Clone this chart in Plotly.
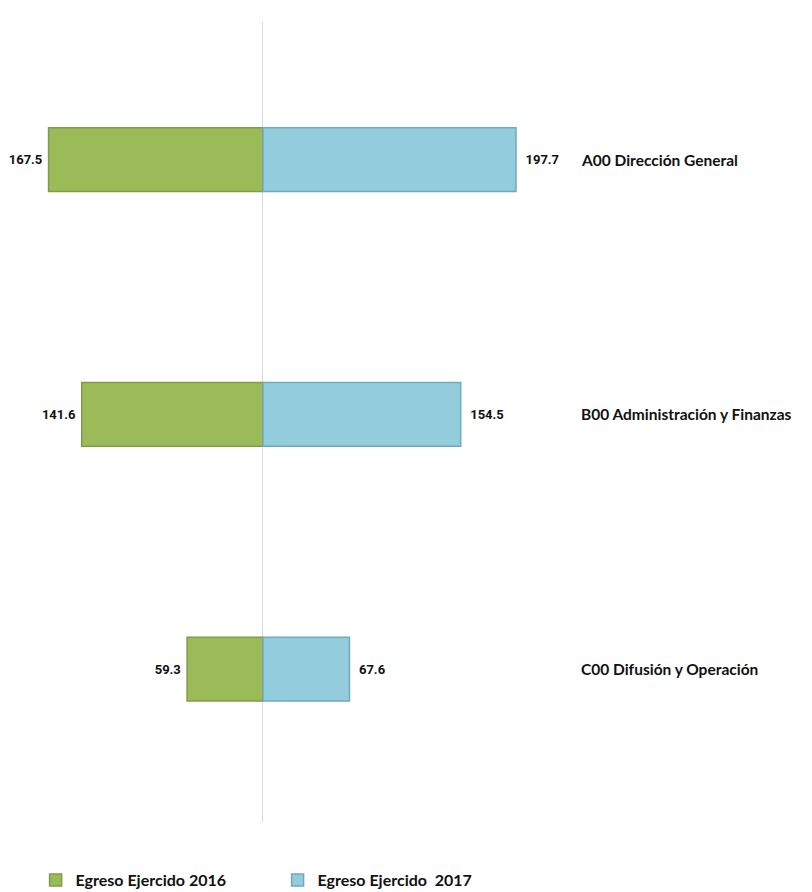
import plotly.graph_objects as go

# datos: egreso ejercido por unidad (millones)
unidades = ['A00 Dirección General', 'B00 Administración y Finanzas', 'C00 Difusión y Operación']
egreso_2016 = [167.5, 141.6, 59.3]
egreso_2017 = [197.7, 154.5, 67.6]

fuente_num = dict(family='Roboto, Liberation Sans', size=13, color='#111111')

fig = go.Figure()

# 2016 hacia la izquierda (valores negativos), etiqueta con el valor real
fig.add_trace(go.Bar(
    y=unidades,
    x=[-v for v in egreso_2016],
    orientation='h',
    name='Egreso Ejercido 2016',
    marker=dict(color='#9bbb59', line=dict(color='#809c48', width=1.5)),
    text=[f'<b>{v:.1f}</b>&nbsp;' for v in egreso_2016],
    textposition='outside',
    textfont=fuente_num,
    cliponaxis=False,
    hoverinfo='skip',
))

# 2017 hacia la derecha
fig.add_trace(go.Bar(
    y=unidades,
    x=egreso_2017,
    orientation='h',
    name='Egreso Ejercido  2017',
    marker=dict(color='#93cddd', line=dict(color='#71aab9', width=1.5)),
    text=[f'&nbsp;&nbsp;<b>{v:.1f}</b>' for v in egreso_2017],
    textposition='outside',
    textfont=fuente_num,
    cliponaxis=False,
    hoverinfo='skip',
))

# nombres de las unidades a la derecha
for u in unidades:
    fig.add_annotation(
        x=0.703, xref='paper', xanchor='left',
        y=u, yref='y', yanchor='middle',
        text=f'<b>{u}</b>', showarrow=False,
        font=dict(family='Lato, Open Sans', size=15.5, color='#111111'),
    )

fig.update_layout(
    width=812, height=892,
    barmode='relative',
    bargap=0.75,
    plot_bgcolor='white',
    paper_bgcolor='white',
    margin=dict(l=0, r=0, t=14, b=78),
    xaxis=dict(range=[-199.2, 435.2], showgrid=False, showticklabels=False,
               zeroline=True, zerolinecolor='#d9d9d9', zerolinewidth=1, fixedrange=True),
    yaxis=dict(range=[2.6, -0.54], showticklabels=False, showgrid=False, zeroline=False),
    legend=dict(orientation='h', x=0.034, xanchor='left', y=-0.0725, yanchor='middle',
                entrywidth=197, itemwidth=30,
                font=dict(family='Lato, Open Sans', size=16, color='#111111', weight='bold')),
    showlegend=True,
)

fig.write_html("out.html")
